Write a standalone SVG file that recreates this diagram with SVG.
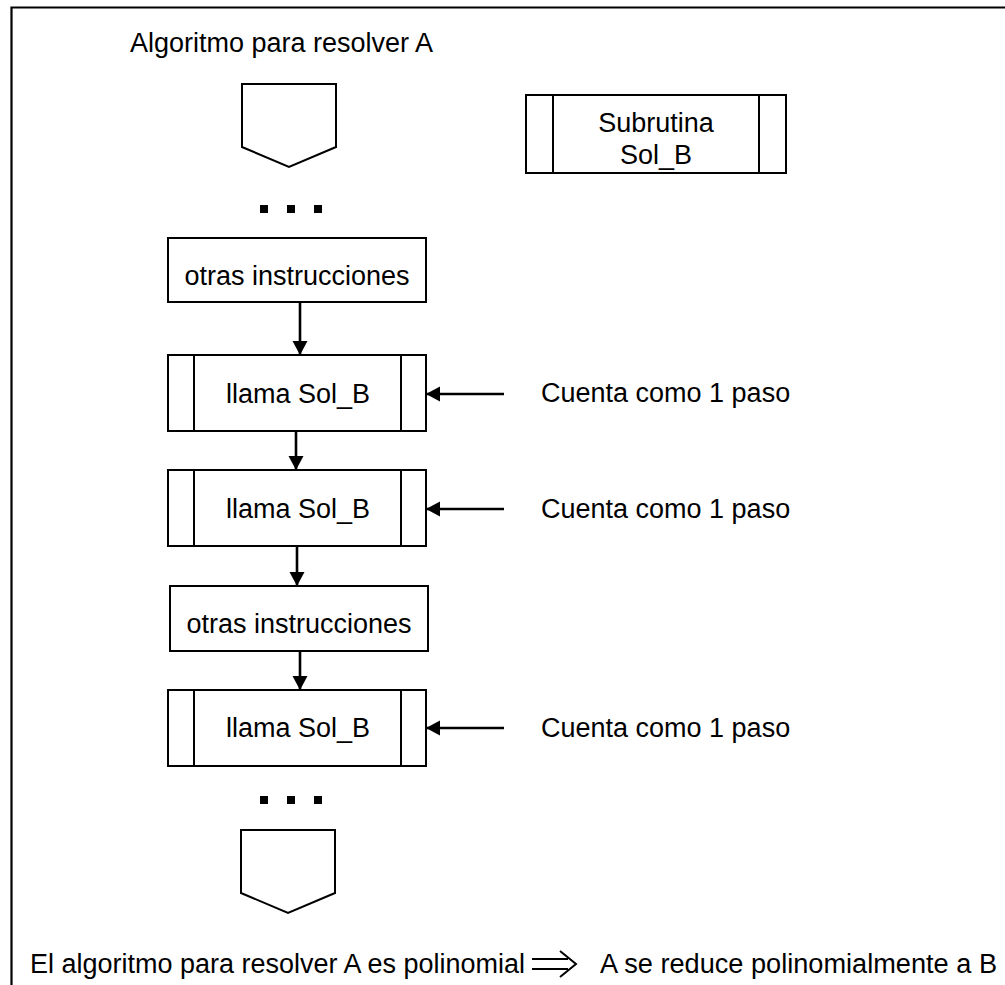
<svg xmlns="http://www.w3.org/2000/svg" width="1005" height="985" viewBox="0 0 1005 985">
  <style>
    .box { fill: #ffffff; stroke: #000000; stroke-width: 2; }
    .inner { stroke: #000000; stroke-width: 2; fill: none; }
    .lbl { font-family: "Liberation Sans", Arial, sans-serif; font-size: 27px; fill: #000000; }
    .mid { text-anchor: middle; }
    .edge { stroke: #000000; stroke-width: 2.6; fill: none; marker-end: url(#head); }
    .dot { fill: #000000; }
  </style>
  <defs>
    <marker id="head" markerUnits="userSpaceOnUse" markerWidth="16" markerHeight="16" refX="14" refY="7.5" orient="auto">
      <path d="M0,0 L14,7.5 L0,15 Z" fill="#000000"/>
    </marker>
  </defs>

  <rect width="1005" height="985" fill="#ffffff"/>
  <!-- frame: top and left edges only -->
  <path d="M11.5,985 V7.5 H1005" fill="none" stroke="#000000" stroke-width="2.2"/>

  <text id="title" class="lbl" x="130" y="52">Algoritmo para resolver A</text>

  <!-- off-page connector (start) -->
  <g id="start">
    <path class="box" d="M242,84 H336 V147 L289,167 L242,147 Z"/>
  </g>
  <g id="dots-top">
    <rect class="dot" x="260" y="205" width="8" height="8"/>
    <rect class="dot" x="287" y="205" width="8" height="8"/>
    <rect class="dot" x="314" y="205" width="8" height="8"/>
  </g>

  <!-- subroutine definition -->
  <g id="subrutina">
    <rect class="box" x="526" y="95" width="260" height="78"/>
    <line class="inner" x1="553" y1="95" x2="553" y2="173"/>
    <line class="inner" x1="759" y1="95" x2="759" y2="173"/>
    <text class="lbl mid" x="656" y="132">Subrutina</text>
    <text class="lbl mid" x="656" y="164">Sol_B</text>
  </g>

  <g id="otras1">
    <rect class="box" x="168" y="238" width="258" height="64"/>
    <text class="lbl mid" x="297" y="285">otras instrucciones</text>
  </g>

  <g id="llama1">
    <rect class="box" x="168" y="355" width="258" height="76"/>
    <line class="inner" x1="194" y1="355" x2="194" y2="431"/>
    <line class="inner" x1="401" y1="355" x2="401" y2="431"/>
    <text class="lbl mid" x="298" y="403">llama Sol_B</text>
  </g>

  <g id="llama2">
    <rect class="box" x="168" y="470" width="258" height="76"/>
    <line class="inner" x1="194" y1="470" x2="194" y2="546"/>
    <line class="inner" x1="401" y1="470" x2="401" y2="546"/>
    <text class="lbl mid" x="298" y="518">llama Sol_B</text>
  </g>

  <g id="otras2">
    <rect class="box" x="170" y="586" width="258" height="65"/>
    <text class="lbl mid" x="299" y="633">otras instrucciones</text>
  </g>

  <g id="llama3">
    <rect class="box" x="168" y="690" width="258" height="76"/>
    <line class="inner" x1="194" y1="690" x2="194" y2="766"/>
    <line class="inner" x1="401" y1="690" x2="401" y2="766"/>
    <text class="lbl mid" x="298" y="737">llama Sol_B</text>
  </g>

  <g id="dots-bottom">
    <rect class="dot" x="260" y="796" width="8" height="8"/>
    <rect class="dot" x="287" y="796" width="8" height="8"/>
    <rect class="dot" x="314" y="796" width="8" height="8"/>
  </g>

  <!-- off-page connector (end) -->
  <g id="end">
    <path class="box" d="M241,830 H335 V893 L288,913 L241,893 Z"/>
  </g>

  <g id="notes">
    <text class="lbl" x="541" y="402">Cuenta como 1 paso</text>
    <text class="lbl" x="541" y="518">Cuenta como 1 paso</text>
    <text class="lbl" x="541" y="737">Cuenta como 1 paso</text>
  </g>

  <g id="connectors">
    <line class="edge" x1="300" y1="302" x2="300" y2="355"/>
    <line class="edge" x1="296" y1="431" x2="296" y2="470"/>
    <line class="edge" x1="297" y1="546" x2="297" y2="586"/>
    <line class="edge" x1="300" y1="651" x2="300" y2="690"/>
    <line class="edge" x1="504" y1="394" x2="426" y2="394"/>
    <line class="edge" x1="504" y1="509" x2="426" y2="509"/>
    <line class="edge" x1="504" y1="728" x2="426" y2="728"/>
  </g>

  <!-- conclusion line with implication arrow -->
  <g id="conclusion">
    <text class="lbl" x="30" y="973" textLength="495" lengthAdjust="spacingAndGlyphs">El algoritmo para resolver A es polinomial</text>
    <path d="M532,959 H568 M532,969 H568 M560,951 L576,964 L560,977" fill="none" stroke="#000000" stroke-width="2"/>
    <text class="lbl" x="600" y="973" textLength="397" lengthAdjust="spacingAndGlyphs">A se reduce polinomialmente a B</text>
  </g>
</svg>
